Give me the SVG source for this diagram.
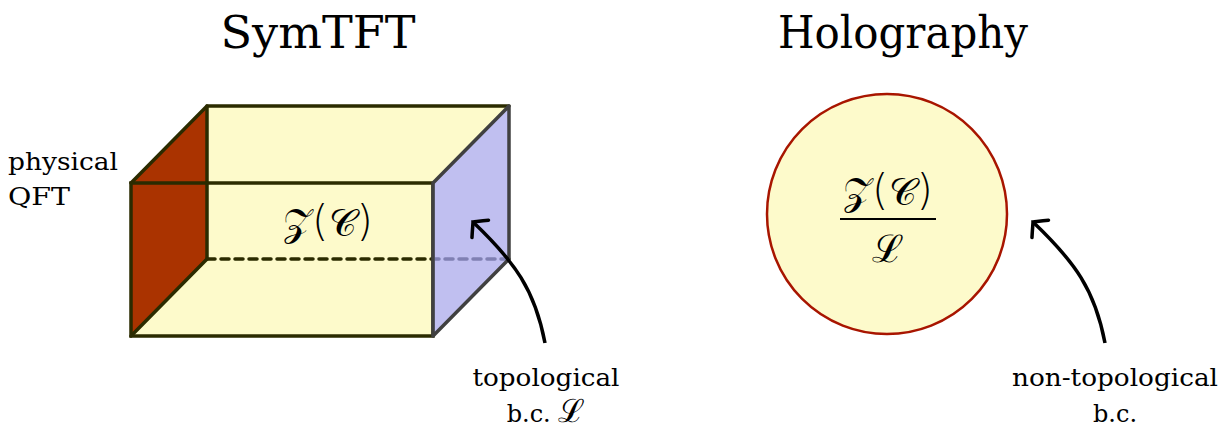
<svg xmlns="http://www.w3.org/2000/svg" width="1231" height="437" viewBox="0 0 1231 437">
<style>
.t{font-family:"DejaVu Serif","Liberation Serif",serif;fill:#000}
.m{font-family:"DejaVu Serif","Liberation Serif",serif;fill:#000}
.p{font-family:"DejaVu Sans","Liberation Sans",sans-serif;font-weight:200}
.e{stroke:#2b2b00;stroke-width:3.5;fill:none;stroke-linecap:round}
.g{stroke:#404040;stroke-width:3.5;fill:none;stroke-linejoin:round}
.arr{stroke:#000;stroke-width:3.5;fill:none}
</style>
<defs>
<marker id="to" markerUnits="userSpaceOnUse" orient="auto" refX="0" refY="0" markerWidth="40" markerHeight="40" viewBox="-20 -20 40 40" overflow="visible">
<path d="M-10,-12 C-4,-5 -1,-1 0,0 C-1,1 -4,5 -10,12" fill="none" stroke="#000" stroke-width="3.5" stroke-linecap="round"/>
</marker>
</defs>
<text class="t" x="318" y="48" font-size="44" text-anchor="middle" textLength="195" lengthAdjust="spacingAndGlyphs">SymTFT</text>
<text class="t" x="903" y="48" font-size="44" text-anchor="middle" textLength="250" lengthAdjust="spacingAndGlyphs">Holography</text>
<g id="box">
<polygon points="207,106 509,106 509,259 207,259" fill="#fdfacb"/>
<polygon points="131,183 207,106 509,106 433,183" fill="#fdfacb"/>
<polygon points="131,336 207,259 509,259 433,336" fill="#fdfacb"/>
<polygon points="131,183 207,106 207,259 131,336" fill="#aa3300"/>
<line class="e" x1="207" y1="259" x2="509" y2="259" stroke-dasharray="8,6"/>
<polyline class="e" points="131,183 207,106 509,106"/>
<line class="e" x1="207" y1="106" x2="207" y2="259"/>
<line class="e" x1="131" y1="336" x2="207" y2="259"/>
<rect class="e" x="131" y="183" width="302" height="153"/>
<polygon points="433,183 509,106 509,259 433,336" fill="#a5a5ff" fill-opacity="0.7"/>
<polygon class="g" points="433,183 509,106 509,259 433,336"/>
<text class="m" x="328" y="236" font-size="38" text-anchor="middle">𝒵<tspan class="p" font-size="42">(</tspan>𝒞<tspan class="p" font-size="42">)</tspan></text>
</g>
<g id="circle">
<circle cx="887" cy="214" r="120" fill="#fdfacb" stroke="#a81500" stroke-width="2.5"/>
<text class="m" x="888" y="205" font-size="38" text-anchor="middle">𝒵<tspan class="p" font-size="42">(</tspan>𝒞<tspan class="p" font-size="42">)</tspan></text>
<line x1="840" y1="219" x2="936" y2="219" stroke="#000" stroke-width="1.8"/>
<text class="m" x="888" y="262" font-size="38" text-anchor="middle">ℒ</text>
</g>
<g id="labels">
<text class="t" x="8" y="170" font-size="24" textLength="110" lengthAdjust="spacingAndGlyphs">physical</text>
<text class="t" x="8" y="205" font-size="24" textLength="62" lengthAdjust="spacingAndGlyphs">QFT</text>
<text class="t" x="546" y="386" font-size="24" text-anchor="middle" textLength="147" lengthAdjust="spacingAndGlyphs">topological</text>
<text class="t" x="546" y="422" font-size="24" text-anchor="middle">b.c. <tspan font-size="32">ℒ</tspan></text>
<text class="t" x="1115" y="386" font-size="24" text-anchor="middle" textLength="206" lengthAdjust="spacingAndGlyphs">non-topological</text>
<text class="t" x="1115" y="422" font-size="24" text-anchor="middle">b.c.</text>
</g>
<g id="connectors">
<path class="arr" d="M545,343 C535,290 515,262 473,222" marker-end="url(#to)"/>
<path class="arr" d="M1105,343 C1095,290 1075,262 1033,222" marker-end="url(#to)"/>
</g>
</svg>
